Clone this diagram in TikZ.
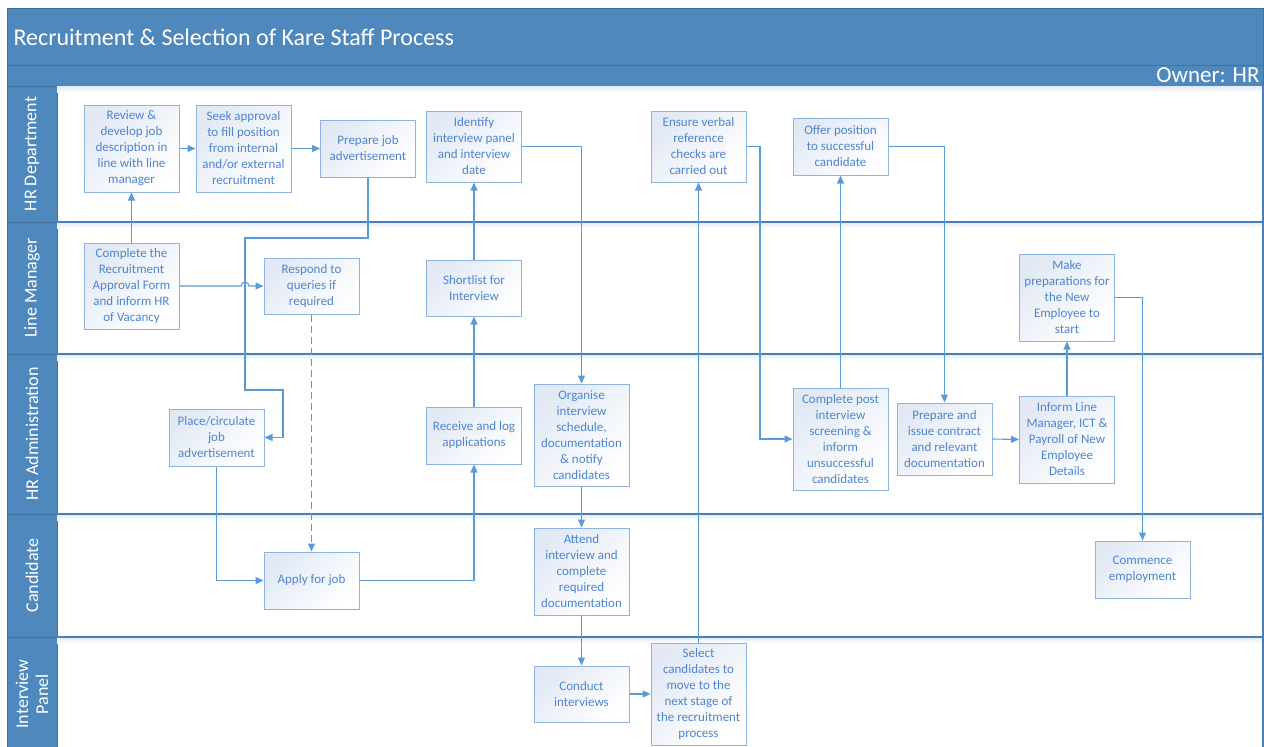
\documentclass[tikz,border=0pt]{standalone}
\usepackage{fontspec}
\setmainfont{Carlito}
\usepackage{tikz}
\usetikzlibrary{arrows.meta,calc}
\definecolor{lanefill}{HTML}{4F88BC}
\definecolor{laneedge}{HTML}{41719C}
\definecolor{laneline}{HTML}{4A7EBB}
\definecolor{taskedge}{HTML}{8DB3E2}
\definecolor{tasktext}{HTML}{4F86CC}
\definecolor{taskshade}{HTML}{E2E9F5}
\definecolor{flowline}{HTML}{5B9BD5}

\begin{document}
\begin{tikzpicture}[x=1pt, y=-1pt,
            task/.style = {draw=taskedge, line width=1pt, top color=taskshade, bottom color=white, shading angle=45, text=tasktext, font=\fontsize{13}{16}\selectfont, align=center, minimum width=95pt, inner sep=2pt},
            flow/.style = {draw=flowline, line width=1.1pt, -{Triangle[length=8pt,width=7pt]}},
            lanelabel/.style = {text=white, rotate=90, font=\fontsize{18}{20}\selectfont, align=center}]
            \useasboundingbox (0,0) rectangle (1264,747);
            \draw[fill=lanefill, draw=laneedge] (7,8) rectangle (1263,65);
            \draw[fill=lanefill, draw=laneedge] (7,65) rectangle (1263,86);
            \node[anchor = west, text=white, font=\fontsize{24}{28}\selectfont] (title) at (10,37) {Recruitment \& Selection of Kare Staff Process};
            \node[anchor = east, text=white, font=\fontsize{23}{26}\selectfont] (owner) at (1263,75) {Owner: HR};
            \foreach \top/\bot in {86/222, 222/354, 354/514, 514/637, 637/752}
                \draw[fill=lanefill, draw=laneedge] (7,\top) rectangle (57,\bot);
            \foreach \y in {86, 222, 354, 514, 637}
                \shade[top color=taskshade, bottom color=white] (57,\y) rectangle (1263,\y+6);
            \foreach \y in {222, 354, 514, 637}
                \draw[laneline, line width=1.2pt] (57,\y) -- (1263,\y);
            \draw[laneline, line width=1.2pt] (1263,86) -- (1263,752);
            \node[lanelabel] (hrdept) at (32,154) {HR Department};
            \node[lanelabel] (linemgr) at (32,288) {Line Manager};
            \node[lanelabel] (hradmin) at (32,434) {HR Administration};
            \node[lanelabel] (candidate) at (32,575.5) {Candidate};
            \node[lanelabel] (panel) at (32,694) {Interview\\Panel};

            \node[task, minimum height=87pt] (review) at (131.5,148.5) {Review \&\\develop job\\description in\\line with line\\manager};
            \node[task, minimum height=87pt] (seek) at (243.5,148.5) {Seek approval\\to fill position\\from internal\\and/or external\\recruitment};
            \node[task, minimum height=57pt] (prepadv) at (368,148.5) {Prepare job\\advertisement};
            \node[task, minimum height=71pt] (identify) at (474,146.5) {Identify\\interview panel\\and interview\\date};
            \node[task, minimum height=71pt] (ensure) at (698.5,146.5) {Ensure verbal\\reference\\checks are\\carried out};
            \node[task, minimum height=57pt] (offer) at (840.5,146.5) {Offer position\\to successful\\candidate};
            \node[task, minimum height=86pt] (form) at (131.5,286) {Complete the\\Recruitment\\Approval Form\\and inform HR\\of Vacancy};
            \node[task, minimum height=56pt] (respond) at (311.5,286) {Respond to\\queries if\\required};
            \node[task, minimum height=56pt] (shortlist) at (474,288) {Shortlist for\\Interview};
            \node[task, minimum height=87pt] (makeprep) at (1067,297.5) {Make\\preparations for\\the New\\Employee to\\start};
            \node[task, minimum height=57pt] (place) at (216.5,437.5) {Place/circulate\\job\\advertisement};
            \node[task, minimum height=57pt] (receive) at (474,435.5) {Receive and log\\applications};
            \node[task, minimum height=102pt] (organise) at (581.5,435) {Organise\\interview\\schedule,\\documentation\\\& notify\\candidates};
            \node[task, minimum height=102pt] (screen) at (840.5,439) {Complete post\\interview\\screening \&\\inform\\unsuccessful\\candidates};
            \node[task, minimum height=72pt] (issue) at (944.5,439) {Prepare and\\issue contract\\and relevant\\documentation};
            \node[task, minimum height=87pt] (inform) at (1067,439.5) {Inform Line\\Manager, ICT \&\\Payroll of New\\Employee\\Details};
            \node[task, minimum height=57pt] (apply) at (311.5,580.5) {Apply for job};
            \node[task, minimum height=87pt] (attend) at (581.5,571.5) {Attend\\interview and\\complete\\required\\documentation};
            \node[task, minimum height=57pt] (commence) at (1142.5,569.5) {Commence\\employment};
            \node[task, minimum height=56pt] (conduct) at (581.5,694) {Conduct\\interviews};
            \node[task, minimum height=102pt] (select) at (698.5,694) {Select\\candidates to\\move to the\\next stage of\\the recruitment\\process};

            \coordinate (adbend) at (245,238);
            \coordinate (adturn) at (283,390);
            \coordinate (refbend) at (760,300);

            \draw[flow] (form.north) -- (review.south);
            \draw[flow] (review.east) -- (seek.west);
            \draw[flow] (seek.east) -- (prepadv.west);
            \draw[flow] (prepadv.south) |- (adbend) |- (adturn) |- (place.east);
            \draw[flow] (form.east) -- ($(form.east -| adbend)+(-4,0)$) arc[start angle=180, end angle=360, radius=4] -- (respond.west);
            \draw[flow, dash pattern=on 7pt off 4pt] (respond.south) -- (apply.north);
            \draw[flow] (place.south) |- (apply.west);
            \draw[flow] (apply.east) -| (receive.south);
            \draw[flow] (receive.north) -- (shortlist.south);
            \draw[flow] (shortlist.north) -- (identify.south);
            \draw[flow] (identify.east) -| (organise.north);
            \draw[flow] (organise.south) -- (attend.north);
            \draw[flow] (attend.south) -- (conduct.north);
            \draw[flow] (conduct.east) -- (select.west);
            \draw[flow] (select.north) -- (ensure.south);
            \draw[flow] (ensure.east) -| (refbend) |- (screen.west);
            \draw[flow] (screen.north) -- (offer.south);
            \draw[flow] (offer.east) -| (issue.north);
            \draw[flow] (issue.east) -- (inform.west);
            \draw[flow] (inform.north) -- (makeprep.south);
            \draw[flow] (makeprep.east) -| (commence.north);
\end{tikzpicture}
\end{document}
